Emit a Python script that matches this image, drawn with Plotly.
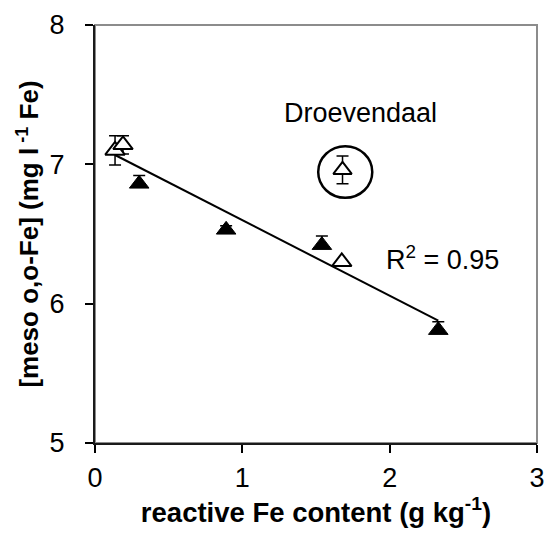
import numpy as np
import plotly.graph_objects as go

# Open triangles (other soils)
open_x = [0.136, 0.19, 1.675]
open_y = [7.10, 7.14, 6.30]
open_err_plus = [0.105, 0.065, 0.0]
open_err_minus = [0.105, 0.065, 0.0]

# Filled triangles (lower whiskers hidden behind the markers in the reference)
fill_x = [0.30, 0.89, 1.54, 2.33]
fill_y = [6.86, 6.53, 6.42, 5.81]
fill_err_plus = [0.06, 0.03, 0.065, 0.06]
fill_err_minus = [0.0, 0.0, 0.0, 0.0]

# Outlier (Droevendaal), excluded from regression
out_x = [1.68]
out_y = [6.96]
out_err = [0.10]

# Circle around outlier (data coords)
circle_x = [1.515, 1.882]
circle_y = [6.76, 7.13]

x_ticks = [0, 1, 2, 3]
y_ticks = [5, 6, 7, 8]

FONT = "Liberation Sans, Arial, sans-serif"

# regression over non-outlier points
all_x = np.array(open_x + fill_x)
all_y = np.array(open_y + fill_y)
slope, intercept = np.polyfit(all_x, all_y, 1)
fit_x = np.array([all_x.min(), all_x.max()])
fit_y = slope * fit_x + intercept

fig = go.Figure()

fig.add_trace(go.Scatter(
    x=fit_x, y=fit_y, mode="lines",
    line=dict(color="black", width=2), showlegend=False, hoverinfo="skip"))

err_style = dict(type="data", visible=True, color="black", thickness=1.5, width=6)

fig.add_trace(go.Scatter(
    x=fill_x, y=fill_y, mode="markers",
    error_y=dict(array=fill_err_plus, arrayminus=fill_err_minus, symmetric=False, **err_style),
    marker=dict(symbol="triangle-up", size=17, color="black",
                line=dict(color="black", width=1)),
    showlegend=False))

fig.add_trace(go.Scatter(
    x=open_x, y=open_y, mode="markers",
    error_y=dict(array=open_err_plus, arrayminus=open_err_minus, symmetric=False, **err_style),
    marker=dict(symbol="triangle-up", size=17, color="white",
                line=dict(color="black", width=2)),
    showlegend=False))

fig.add_trace(go.Scatter(
    x=out_x, y=out_y, mode="markers",
    error_y=dict(array=out_err, **err_style),
    marker=dict(symbol="triangle-up", size=16, color="white",
                line=dict(color="black", width=2)),
    showlegend=False))

fig.add_shape(type="circle", xref="x", yref="y",
              x0=circle_x[0], x1=circle_x[1], y0=circle_y[0], y1=circle_y[1],
              line=dict(color="black", width=2.5))

# grey plot-area border (top/right visible)
fig.add_shape(type="rect", xref="paper", yref="paper", x0=0, x1=1, y0=0, y1=1,
              line=dict(color="#8c8c8c", width=2), layer="below")

fig.add_annotation(x=1.80, y=7.37, xref="x", yref="y", text="Droevendaal",
                   showarrow=False, font=dict(family=FONT, size=27, color="black"))
fig.add_annotation(x=2.36, y=6.33, xref="x", yref="y", text="R<sup>2</sup> = 0.95",
                   showarrow=False, font=dict(family=FONT, size=27, color="black"))

axis_common = dict(
    showgrid=False, zeroline=False, showline=True, linecolor="#1a1a1a", linewidth=2,
    ticks="outside", ticklen=8, tickwidth=1.5, tickcolor="black",
    tickfont=dict(family=FONT, size=27, color="black"),
    ticklabeloverflow="allow",
)

fig.update_xaxes(range=[0, 3], tickvals=x_ticks, ticktext=[str(v) for v in x_ticks],
                 ticklabelstandoff=2,
                 title=dict(text="reactive Fe content (g kg<sup>-1</sup>)",
                            font=dict(family=FONT, size=27.5, color="black", weight="bold"),
                            standoff=3),
                 **axis_common)
fig.update_yaxes(range=[5, 8], tickvals=y_ticks, ticktext=[str(v) for v in y_ticks],
                 ticklabelstandoff=15,
                 title=dict(text="[meso o,o-Fe] (mg l<sup> -1</sup> Fe)",
                            font=dict(family=FONT, size=26, color="black", weight="bold"),
                            standoff=3),
                 **axis_common)

fig.update_layout(
    width=544, height=538,
    margin=dict(l=95, r=7, t=25, b=95, autoexpand=False),
    paper_bgcolor="white", plot_bgcolor="white",
    font=dict(family=FONT, color="black"),
)

fig.write_html("out.html")
